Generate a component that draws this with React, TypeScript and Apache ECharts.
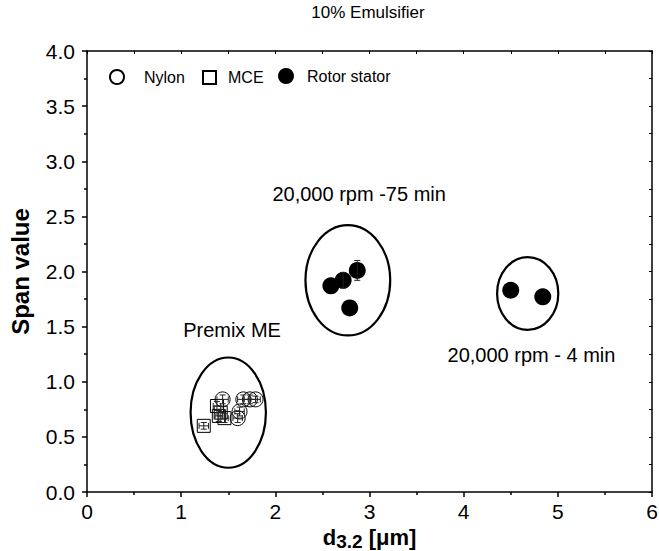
import React, { useEffect, useRef } from "react";
import * as echarts from "echarts";

// Premix ME – nylon membrane: [d32, span, d32 err, span err]
const nylonPoints = [
  [1.44, 0.84, 0.06, 0.04],
  [1.66, 0.84, 0.06, 0.04],
  [1.73, 0.84, 0.06, 0.04],
  [1.79, 0.84, 0.05, 0.03],
  [1.62, 0.73, 0.05, 0.04],
  [1.6, 0.67, 0.05, 0.04],
];
// Premix ME – MCE membrane
const mcePoints = [
  [1.24, 0.6, 0.05, 0.03],
  [1.38, 0.78, 0.04, 0.04],
  [1.4, 0.69, 0.04, 0.05],
  [1.46, 0.67, 0.04, 0.04],
  [1.42, 0.72, 0.04, 0.03],
];
// Rotor stator
const rotorPoints = [
  [2.59, 1.87, 0, 0],
  [2.72, 1.92, 0, 0.07],
  [2.87, 2.01, 0, 0.09],
  [2.79, 1.67, 0, 0],
  [4.5, 1.83, 0, 0],
  [4.84, 1.77, 0, 0],
];
// Groupings: [cx, cy, rx, ry] in axis units
const groupEllipses = [
  [1.5, 0.72, 0.4, 0.5],
  [2.77, 1.92, 0.45, 0.5],
  [4.68, 1.8, 0.325, 0.33],
];
// Annotation texts: [x, y, text]
const annotations: [number, number, string][] = [
  [1.54, 1.47, "Premix ME"],
  [2.89, 2.7, "20,000 rpm -75 min"],
  [4.72, 1.24, "20,000 rpm - 4 min"],
];
const seriesNames = ["Nylon", "MCE", "Rotor stator"];

const FONT = "Liberation Sans, Arial, sans-serif";

function errorBarItem(params: any, api: any) {
  const x = api.value(0);
  const y = api.value(1);
  const ex = api.value(2);
  const ey = api.value(3);
  const children: any[] = [];
  const style = { stroke: "#222", lineWidth: 1 };
  const cap = 3;
  if (ey > 0) {
    const top = api.coord([x, y + ey]);
    const bot = api.coord([x, y - ey]);
    children.push({ type: "line", shape: { x1: top[0], y1: top[1], x2: bot[0], y2: bot[1] }, style });
    children.push({ type: "line", shape: { x1: top[0] - cap, y1: top[1], x2: top[0] + cap, y2: top[1] }, style });
    children.push({ type: "line", shape: { x1: bot[0] - cap, y1: bot[1], x2: bot[0] + cap, y2: bot[1] }, style });
  }
  if (ex > 0) {
    const l = api.coord([x - ex, y]);
    const r = api.coord([x + ex, y]);
    children.push({ type: "line", shape: { x1: l[0], y1: l[1], x2: r[0], y2: r[1] }, style });
    children.push({ type: "line", shape: { x1: l[0], y1: l[1] - cap, x2: l[0], y2: l[1] + cap }, style });
    children.push({ type: "line", shape: { x1: r[0], y1: r[1] - cap, x2: r[0], y2: r[1] + cap }, style });
  }
  return { type: "group", children };
}

const legendAt = (name: string, left: number, size: number, gap: number) => ({
  data: [name],
  left,
  top: 76 - size / 2,
  padding: 0,
  itemWidth: size,
  itemHeight: size,
  textStyle: { fontFamily: FONT, fontSize: 16, color: "#000", padding: [0, 0, 0, gap] },
});

export default function App() {
  const ref = useRef<HTMLDivElement>(null);
  useEffect(() => {
    if (!ref.current) return;
    const chart = echarts.init(ref.current, null, { renderer: "svg" });
    const axisCommon = {
      type: "value" as const,
      axisLine: { show: true, onZero: false, lineStyle: { color: "#000", width: 1.5 } },
      splitLine: { show: false },
    };
    chart.setOption({
      animation: false,
      backgroundColor: "#fff",
      textStyle: { fontFamily: FONT },
      title: {
        text: "10% Emulsifier",
        left: 368,
        textAlign: "center",
        top: 4,
        padding: 0,
        textStyle: { fontFamily: FONT, fontSize: 17, fontWeight: "normal", color: "#000" },
      },
      legend: [
        legendAt("Nylon", 109, 14, 15),
        legendAt("MCE", 202, 13, 7),
        legendAt("Rotor stator", 278, 16, 8),
      ],
      grid: { left: 87, right: 7, top: 51, bottom: 59, outerBoundsMode: "none" },
      xAxis: [
        {
          ...axisCommon,
          min: 0,
          max: 6,
          interval: 1,
          position: "bottom",
          axisTick: { show: true, inside: false, length: 5, lineStyle: { color: "#000", width: 1.5 } },
          minorTick: { show: true, splitNumber: 2, length: 3, lineStyle: { color: "#000", width: 1.5 } },
          axisLabel: { fontFamily: FONT, fontSize: 21, color: "#000", margin: 9 },
          name: "{d|d}{s|3.2}{d| [μm]}",
          nameLocation: "middle",
          nameGap: 30,
          nameTextStyle: {
            rich: {
              d: { fontFamily: FONT, fontSize: 22, fontWeight: "bold", color: "#000" },
              s: { fontFamily: FONT, fontSize: 19, fontWeight: "bold", color: "#000", verticalAlign: "bottom", padding: [7, 0, 0, 0] },
            },
          },
        },
        {
          ...axisCommon,
          min: 0,
          max: 6,
          interval: 1,
          position: "top",
          axisTick: { show: true, inside: true, length: 3, lineStyle: { color: "#000" } },
          minorTick: { show: true, splitNumber: 2, length: 3, lineStyle: { color: "#000" } },
          axisLabel: { show: false },
        },
      ],
      yAxis: [
        {
          ...axisCommon,
          min: 0,
          max: 4,
          interval: 0.5,
          position: "left",
          axisTick: { show: true, inside: false, length: 5, lineStyle: { color: "#000", width: 1.5 } },
          minorTick: { show: true, splitNumber: 2, length: 3, lineStyle: { color: "#000", width: 1.5 } },
          axisLabel: { fontFamily: FONT, fontSize: 21, color: "#000", margin: 12, formatter: (v: number) => v.toFixed(1) },
          name: "Span value",
          nameLocation: "middle",
          nameGap: 55,
          nameTextStyle: { fontFamily: FONT, fontSize: 24, fontWeight: "bold", color: "#000" },
        },
        {
          ...axisCommon,
          min: 0,
          max: 4,
          interval: 0.5,
          position: "right",
          axisTick: { show: true, inside: true, length: 3, lineStyle: { color: "#000" } },
          minorTick: { show: true, splitNumber: 2, length: 3, lineStyle: { color: "#000" } },
          axisLabel: { show: false },
        },
      ],
      series: [
        {
          type: "custom",
          name: "groups",
          silent: true,
          z: 1,
          data: groupEllipses,
          renderItem: (params: any, api: any) => {
            const c = api.coord([api.value(0), api.value(1)]);
            const s = api.size([api.value(2), api.value(3)]);
            return {
              type: "ellipse",
              shape: { cx: c[0], cy: c[1], rx: s[0], ry: s[1] },
              style: { fill: "none", stroke: "#000", lineWidth: 2.2 },
            };
          },
        },
        {
          type: "custom",
          name: "notes",
          silent: true,
          z: 1,
          data: annotations,
          renderItem: (params: any, api: any) => {
            const c = api.coord([api.value(0), api.value(1)]);
            return {
              type: "text",
              x: c[0],
              y: c[1],
              style: {
                text: annotations[params.dataIndex][2],
                fontFamily: FONT,
                fontSize: 20,
                fill: "#000",
                align: "center",
                verticalAlign: "middle",
              },
            };
          },
        },
        {
          type: "scatter",
          name: "Nylon",
          symbol: "circle",
          symbolSize: 15,
          z: 3,
          data: nylonPoints.map((p) => [p[0], p[1]]),
          itemStyle: { color: "rgba(255,255,255,0)", borderColor: "#000", borderWidth: 1, opacity: 1 },
        },
        {
          type: "scatter",
          name: "MCE",
          symbol: "rect",
          symbolSize: 13,
          z: 3,
          data: mcePoints.map((p) => [p[0], p[1]]),
          itemStyle: { color: "rgba(255,255,255,0)", borderColor: "#000", borderWidth: 1, opacity: 1 },
        },
        {
          type: "scatter",
          name: "Rotor stator",
          symbol: "circle",
          symbolSize: 17,
          z: 3,
          data: rotorPoints.map((p) => [p[0], p[1]]),
          itemStyle: { color: "#000", opacity: 1 },
        },
        {
          type: "custom",
          name: "errors",
          silent: true,
          z: 4,
          data: [...nylonPoints, ...mcePoints, ...rotorPoints],
          renderItem: errorBarItem,
        },
      ],
    });
    return () => chart.dispose();
  }, []);
  return (
    <div
      ref={ref}
      style={{ position: "absolute", left: 0, top: 0, width: 659, height: 551 }}
    />
  );
}
